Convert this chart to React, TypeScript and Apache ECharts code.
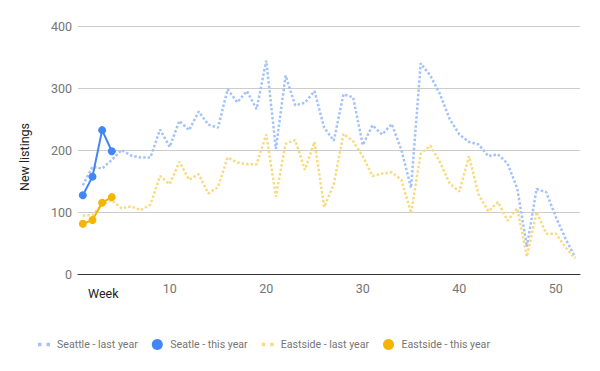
import React, { useEffect, useRef } from 'react';
import * as echarts from 'echarts';

const weeks = [
  1, 2, 3, 4, 5, 6, 7, 8, 9, 10, 11, 12, 13, 14, 15, 16, 17, 18, 19, 20, 21, 22, 23, 24, 25, 26,
  27, 28, 29, 30, 31, 32, 33, 34, 35, 36, 37, 38, 39, 40, 41, 42, 43, 44, 45, 46, 47, 48, 49, 50, 51, 52,
];
const labelWeeks = [10, 20, 30, 40, 50];

const seattleLastYear = [
  143, 173, 170, 184, 200, 191, 188, 188, 233, 205, 247, 232, 262, 241, 236, 298, 277, 295, 266, 344, 202, 320,
  272, 276, 295, 236, 215, 290, 285, 208, 240, 225, 242, 200, 139, 340, 320, 290, 250, 225, 213, 209, 190, 193,
  178, 138, 44, 137, 132, 92, 57, 27,
];
const seattleThisYear = [127, 157, 232, 198];
const eastsideLastYear = [
  94, 95, 112, 119, 106, 109, 103, 112, 158, 145, 181, 152, 161, 130, 140, 188, 180, 177, 177, 225, 125, 210,
  216, 168, 213, 108, 145, 226, 214, 190, 158, 162, 164, 152, 98, 194, 207, 180, 146, 133, 190, 128, 101, 116,
  86, 106, 28, 100, 65, 65, 43, 25,
];
const eastsideThisYear = [81, 87, 115, 124];

const seriesNames = ['Seattle - last year', 'Seatle - this year', 'Eastside - last year', 'Eastside - this year'];

const BLUE = '#4285f4';
const BLUE_LIGHT = '#a3c3f9';
const YELLOW = '#f4b400';
const YELLOW_LIGHT = '#f9da84';
const FONT = 'Roboto, Arial, sans-serif';
const DOTS = 'path://M0,0h3.5v3.5h-3.5zM8.5,0h3.5v3.5h-3.5z';

export default function App() {
  const ref = useRef<HTMLDivElement>(null);
  useEffect(() => {
    document.body.style.margin = '0';
    const chart = echarts.init(ref.current as HTMLDivElement, null, { renderer: 'svg' });
    chart.setOption({
      animation: false,
      textStyle: { fontFamily: FONT },
      grid: { left: 78, right: 20, top: 26, bottom: 97 },
      legend: {
        left: 38,
        top: 339,
        padding: 0,
        itemWidth: 12,
        itemHeight: 11,
        itemGap: 14,
        textStyle: { color: '#757575', fontSize: 10.6, fontFamily: FONT, padding: [0, 0, 0, 2] },
        data: [
          { name: seriesNames[0], icon: DOTS, itemStyle: { color: BLUE_LIGHT, borderWidth: 0 } },
          { name: seriesNames[1], icon: 'circle', itemStyle: { color: BLUE, borderWidth: 0 } },
          { name: seriesNames[2], icon: DOTS, itemStyle: { color: YELLOW_LIGHT, borderWidth: 0 } },
          { name: seriesNames[3], icon: 'circle', itemStyle: { color: YELLOW, borderWidth: 0 } },
        ],
      },
      graphic: [
        {
          type: 'text',
          left: 88,
          top: 287,
          style: { text: 'Week', fill: '#222', font: `12.5px ${FONT}` },
        },
      ],
      xAxis: {
        type: 'category',
        data: weeks.map(String),
        boundaryGap: true,
        axisLine: { lineStyle: { color: '#333', width: 1 } },
        axisTick: { show: false },
        splitLine: { show: false },
        axisLabel: {
          interval: (_i: number, v: string) => labelWeeks.includes(Number(v)),
          color: '#757575',
          fontSize: 12.5,
          fontFamily: FONT,
          margin: 8,
        },
      },
      yAxis: {
        type: 'value',
        min: 0,
        max: 400,
        interval: 100,
        name: 'New listings',
        nameLocation: 'middle',
        nameGap: 47,
        nameRotate: 90,
        nameTextStyle: { color: '#222', fontSize: 12.5, fontFamily: FONT, padding: [0, 14, 0, 0] },
        axisLine: { show: false },
        axisTick: { show: false },
        axisLabel: { color: '#757575', fontSize: 12.5, fontFamily: FONT, margin: 6 },
        splitLine: { lineStyle: { color: '#cccccc', width: 1 } },
      },
      series: [
        {
          name: seriesNames[0],
          type: 'line',
          data: seattleLastYear,
          symbol: 'none',
          z: 2,
          itemStyle: { color: BLUE_LIGHT },
          lineStyle: { color: BLUE_LIGHT, width: 2.5, type: [2.5, 2] },
        },
        {
          name: seriesNames[1],
          type: 'line',
          data: seattleThisYear,
          symbol: 'circle',
          symbolSize: 8,
          showSymbol: true,
          showAllSymbol: true,
          z: 4,
          itemStyle: { color: BLUE },
          lineStyle: { color: BLUE, width: 2 },
        },
        {
          name: seriesNames[2],
          type: 'line',
          data: eastsideLastYear,
          symbol: 'none',
          z: 2,
          itemStyle: { color: YELLOW_LIGHT },
          lineStyle: { color: YELLOW_LIGHT, width: 2.5, type: [2.5, 2] },
        },
        {
          name: seriesNames[3],
          type: 'line',
          data: eastsideThisYear,
          symbol: 'circle',
          symbolSize: 8,
          showSymbol: true,
          showAllSymbol: true,
          z: 4,
          itemStyle: { color: YELLOW },
          lineStyle: { color: YELLOW, width: 2 },
        },
      ],
    });
    return () => chart.dispose();
  }, []);
  return <div ref={ref} style={{ width: 600, height: 371 }} />;
}
